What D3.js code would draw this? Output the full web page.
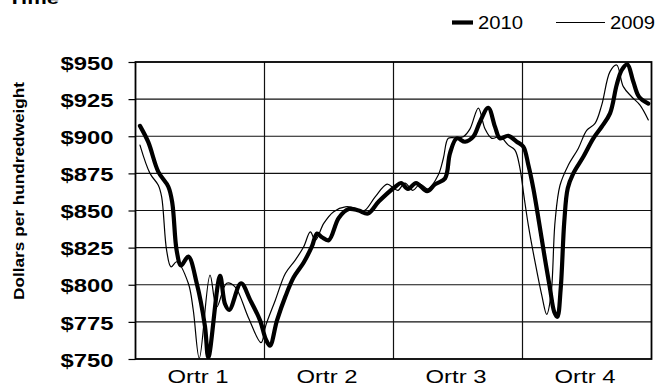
<!DOCTYPE html>
<html>
<head>
<meta charset="utf-8">
<script src="https://cdn.jsdelivr.net/npm/d3@7"></script>
<style>
  body { margin: 0; background: #fff; }
  svg { display: block; }
  text { font-family: "Liberation Sans", Arial, sans-serif; fill: #000; }
</style>
</head>
<body>
<svg id="chart" width="658" height="383"></svg>
<script>
// Category labels along the bottom and price ticks on the left
const quarters = ["Qrtr 1", "Qrtr 2", "Qrtr 3", "Qrtr 4"];
const priceTicks = [750, 775, 800, 825, 850, 875, 900, 925, 950];

// 2010 weekly prices (week of year, $ per hundredweight)
const weeks2010 = [0.45, 1.29, 2.30, 3.31, 3.71, 4.15, 4.59, 5.32, 6.17, 7.00, 7.34, 8.52, 9.02, 9.45,
  10.63, 11.54, 12.55, 13.15, 13.55, 14.26, 15.10, 15.94, 16.95, 17.79, 18.29, 18.79, 19.47, 20.48,
  21.49, 22.49, 23.43, 24.51, 26.18, 26.76, 27.46, 28.27, 29.38, 30.18, 31.19, 31.69, 32.37, 33.21,
  34.04, 34.72, 35.55, 36.23, 36.73, 37.57, 38.42, 39.08, 39.59, 40.09, 40.66, 41.20, 41.77, 42.20,
  42.51, 42.85, 43.21, 43.56, 44.12, 45.13, 46.14, 46.98, 47.82, 48.49, 49.00, 49.56, 50.17, 50.74, 51.68];
const price2010 = [907, 896, 876, 866, 855, 823, 813, 819, 801, 772, 751, 806, 787, 783,
  801, 790, 776, 763, 759, 776, 792, 805, 815, 826, 834.5, 832, 830, 845,
  851, 850, 848, 856, 866, 868.5, 864.5, 868.5, 863, 867.6, 871.6, 888.5, 898.6, 896.3,
  899.7, 909.8, 919.2, 906.4, 898.6, 900.3, 896.3, 893, 880.6, 864.9, 842.4, 820, 797.5, 781.7,
  778.4, 797.5, 842.4, 865, 875, 886.2, 898.6, 906.4, 915.4, 934.5, 944.6, 948.4, 936.7, 926.6, 922];

// 2009 weekly prices
const weeks2009 = [0.45, 1.46, 2.30, 2.64, 3.14, 3.58, 4.15, 5.32, 5.82, 6.43, 7.51, 8.18, 9.19, 10.03,
  11.37, 12.65, 13.15, 14.09, 15.10, 16.10, 16.95, 17.62, 18.12, 18.97, 19.97, 21.14, 22.15, 22.65,
  23.16, 24.17, 25.35, 26.02, 26.45, 27.16, 27.95, 28.67, 29.48, 30.51, 31.02, 31.52, 32.20, 33.03,
  33.71, 34.55, 35.22, 35.90, 36.73, 37.57, 38.24, 38.74, 39.14, 39.59, 40.26, 40.94, 41.44, 41.87,
  42.28, 42.78, 43.62, 44.62, 45.47, 46.31, 46.98, 47.82, 48.49, 49.16, 50.00, 50.84, 51.68];
const price2009 = [894, 875, 867, 859, 823, 812, 815.5, 801, 783, 750.5, 806.5, 785, 801, 798.6,
  778, 761, 773, 789.6, 807.6, 816.6, 825.6, 835.6, 830, 841.3, 849.2, 852.5, 851.4, 849.2,
  850.3, 859.3, 867.8, 865, 863.6, 868.5, 863.6, 867.8, 864.5, 873.9, 885, 898.6, 899, 899.7,
  905, 919, 905, 898.6, 899.7, 894, 890.7, 878.6, 860, 840, 815.5, 793, 780, 793,
  842.4, 867, 880.6, 891.8, 904, 908.7, 921, 943.5, 948, 933.4, 926.6, 921, 911];

const series = [
  { name: "2010", weeks: weeks2010, prices: price2010, width: 4.2 },
  { name: "2009", weeks: weeks2009, prices: price2009, width: 1.2 }
];

const svg = d3.select("#chart");
const plot = { left: 135.5, right: 651.5, top: 62, bottom: 359 };

const x = d3.scaleLinear().domain([0, 52]).range([plot.left, plot.right]);
const xq = d3.scaleBand().domain(quarters).range([plot.left, plot.right]);
const y = d3.scaleLinear().domain([750, 950]).range([plot.bottom, plot.top]);

// Chart title (sits partly above the visible area)
svg.append("text")
  .attr("x", 8).attr("y", 4)
  .attr("font-size", 17).attr("font-weight", "bold")
  .attr("textLength", 51).attr("lengthAdjust", "spacingAndGlyphs")
  .text("Time");

// Horizontal gridlines
svg.append("g")
  .selectAll("line")
  .data(priceTicks.slice(1, -1))
  .join("line")
  .attr("x1", plot.left).attr("x2", plot.right)
  .attr("y1", d => y(d)).attr("y2", d => y(d))
  .attr("stroke", "#111").attr("stroke-width", 1.2);

// Quarter dividers
svg.append("g")
  .selectAll("line")
  .data(quarters.slice(1))
  .join("line")
  .attr("x1", d => xq(d)).attr("x2", d => xq(d))
  .attr("y1", plot.top).attr("y2", plot.bottom)
  .attr("stroke", "#111").attr("stroke-width", 1.2);

// Left axis with outward ticks
const yAxis = d3.axisLeft(y).tickValues(priceTicks).tickSize(7).tickFormat(d => "$" + d);
const gy = svg.append("g").attr("transform", `translate(${plot.left},0)`).call(yAxis);
gy.select(".domain").remove();
gy.selectAll(".tick line").attr("stroke", "#000").attr("stroke-width", 1.2);
gy.selectAll(".tick text")
  .attr("x", -22).attr("dy", "0.4em")
  .attr("font-size", 18).attr("font-weight", "bold")
  .attr("font-family", "'Liberation Sans', Arial, sans-serif")
  .attr("fill", "#000")
  .attr("textLength", 53).attr("lengthAdjust", "spacingAndGlyphs");

// Axis title
svg.append("text")
  .attr("transform", "translate(24,191) rotate(-90)")
  .attr("text-anchor", "middle")
  .attr("font-size", 15.5).attr("font-weight", "bold")
  .attr("textLength", 218).attr("lengthAdjust", "spacingAndGlyphs")
  .text("Dollars per hundredweight");

// Quarter labels
svg.append("g")
  .selectAll("text")
  .data(quarters)
  .join("text")
  .attr("x", d => xq(d) + xq.bandwidth() / 2 - 2)
  .attr("y", 383)
  .attr("text-anchor", "middle")
  .attr("font-size", 18)
  .attr("textLength", 61).attr("lengthAdjust", "spacingAndGlyphs")
  .text(d => d);

// Price lines, clipped to the plot area
svg.append("clipPath").attr("id", "plot-clip")
  .append("rect")
  .attr("x", plot.left).attr("y", plot.top)
  .attr("width", plot.right - plot.left).attr("height", plot.bottom - plot.top);

const line = d3.line()
  .x(d => x(d[0]))
  .y(d => y(d[1]))
  .curve(d3.curveCatmullRom.alpha(0.5));

svg.append("g").attr("clip-path", "url(#plot-clip)")
  .selectAll("path")
  .data(series.slice().reverse())
  .join("path")
  .attr("d", s => line(s.weeks.map((w, i) => [w, s.prices[i]])))
  .attr("fill", "none")
  .attr("stroke", "#000")
  .attr("stroke-width", s => s.width)
  .attr("stroke-linejoin", "round")
  .attr("stroke-linecap", "round");

// Plot frame
svg.append("rect")
  .attr("x", plot.left).attr("y", plot.top)
  .attr("width", plot.right - plot.left).attr("height", plot.bottom - plot.top)
  .attr("fill", "none").attr("stroke", "#000").attr("stroke-width", 1.8);

// Legend
const legendItems = [
  { name: "2010", x1: 452, x2: 473, tx: 478, width: 4.2 },
  { name: "2009", x1: 556, x2: 605, tx: 610, width: 1.2 }
];
const lg = svg.append("g").selectAll("g").data(legendItems).join("g");
lg.append("line")
  .attr("x1", d => d.x1).attr("x2", d => d.x2)
  .attr("y1", 22.5).attr("y2", 22.5)
  .attr("stroke", "#000").attr("stroke-width", d => d.width);
lg.append("text")
  .attr("x", d => d.tx).attr("y", 29)
  .attr("font-size", 18)
  .attr("textLength", 45).attr("lengthAdjust", "spacingAndGlyphs")
  .text(d => d.name);
</script>
</body>
</html>
